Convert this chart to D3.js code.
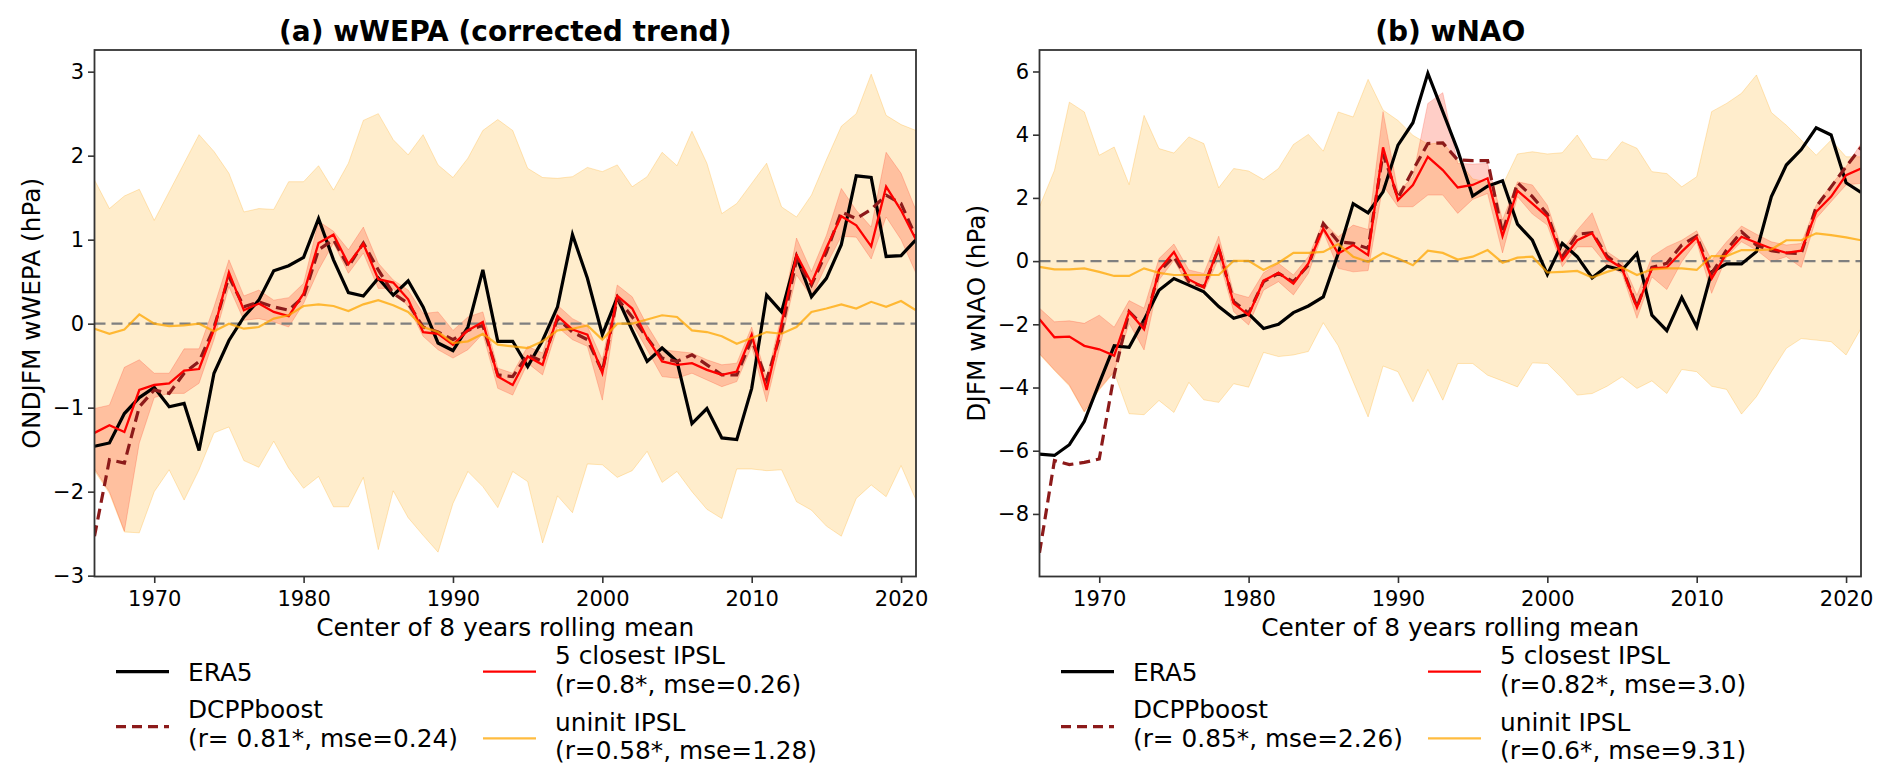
<!DOCTYPE html>
<html>
<head>
<meta charset="utf-8">
<script src="https://cdn.jsdelivr.net/npm/d3@7"></script>
<style>
    body { margin: 0; background: #fff; }
    svg text { font-family: "DejaVu Sans", sans-serif; fill: #000; }
</style>
</head>
<body>
<svg id="chart" width="1892" height="782"></svg>
<script>
// years are the centres of the 8-year rolling means
var YEARS = d3.range(1966, 2022);
var X_TICKS = [1970, 1980, 1990, 2000, 2010, 2020];

// (a) wWEPA
var WEPA_TICKS = [-3, -2, -1, 0, 1, 2, 3];
var WEPA_ERA5 = [-1.46,-1.42,-1.07,-0.88,-0.76,-0.99,-0.95,-1.51,-0.59,-0.20,0.08,0.28,0.63,0.69,0.79,1.25,0.76,0.37,0.33,0.54,0.34,0.51,0.20,-0.23,-0.32,-0.04,0.64,-0.21,-0.21,-0.51,-0.20,0.20,1.06,0.54,-0.13,0.31,-0.08,-0.45,-0.29,-0.45,-1.19,-1.01,-1.36,-1.38,-0.77,0.34,0.14,0.80,0.32,0.54,0.94,1.76,1.74,0.80,0.81,1.00];
var WEPA_DCPP = [-2.53,-1.62,-1.66,-0.99,-0.79,-0.83,-0.59,-0.45,-0.05,0.56,0.20,0.26,0.20,0.16,0.32,0.88,1.00,0.68,0.96,0.64,0.36,0.24,-0.04,-0.10,-0.19,-0.08,-0.02,-0.61,-0.63,-0.37,-0.45,0.06,-0.10,-0.19,-0.57,0.30,0.08,-0.17,-0.41,-0.45,-0.37,-0.49,-0.61,-0.61,-0.19,-0.67,-0.08,0.76,0.46,0.85,1.33,1.25,1.36,1.53,1.43,1.03];
var WEPA_CLOSE = [-1.30,-1.21,-1.29,-0.79,-0.73,-0.71,-0.56,-0.54,-0.07,0.61,0.16,0.24,0.14,0.09,0.36,0.96,1.06,0.71,0.95,0.53,0.49,0.29,-0.10,-0.12,-0.25,-0.08,0.02,-0.63,-0.73,-0.39,-0.49,0.09,-0.07,-0.13,-0.59,0.33,0.18,-0.17,-0.45,-0.49,-0.47,-0.55,-0.61,-0.57,-0.13,-0.79,0.00,0.82,0.48,0.90,1.28,1.17,0.92,1.63,1.35,1.00];
var WEPA_CLOSE_LO = [-1.73,-2.00,-2.47,-1.42,-0.88,-0.83,-0.83,-0.71,-0.19,0.44,0.04,0.06,0.02,-0.04,0.24,0.64,0.96,0.60,0.84,0.42,0.42,0.20,-0.15,-0.31,-0.41,-0.31,-0.12,-0.77,-0.85,-0.47,-0.61,-0.04,-0.19,-0.27,-0.91,0.24,0.00,-0.31,-0.63,-0.65,-0.59,-0.67,-0.75,-0.69,-0.27,-0.93,-0.19,0.58,0.32,0.70,1.04,1.03,0.77,1.27,1.00,0.60];
var WEPA_CLOSE_HI = [-1.01,-0.97,-0.52,-0.43,-0.59,-0.59,-0.30,-0.30,0.20,0.76,0.33,0.40,0.28,0.31,0.48,1.22,1.10,0.88,1.15,0.72,0.52,0.40,0.12,0.14,-0.08,0.08,0.14,-0.53,-0.59,-0.27,-0.35,0.22,0.06,-0.03,-0.43,0.46,0.32,-0.02,-0.31,-0.33,-0.35,-0.43,-0.49,-0.47,-0.04,-0.65,0.10,1.02,0.62,1.05,1.61,1.35,1.15,2.04,1.79,1.35];
var WEPA_UNINIT = [-0.06,-0.12,-0.07,0.11,0.00,-0.03,-0.02,0.00,-0.09,0.00,-0.06,-0.04,0.06,0.10,0.21,0.23,0.21,0.15,0.23,0.28,0.22,0.14,-0.04,-0.10,-0.23,-0.21,-0.12,-0.25,-0.27,-0.29,-0.21,-0.08,-0.06,-0.02,-0.19,0.00,0.00,0.05,0.10,0.08,-0.08,-0.10,-0.15,-0.24,-0.17,-0.10,-0.12,-0.04,0.14,0.18,0.23,0.18,0.26,0.20,0.27,0.16];
var WEPA_UNINIT_LO = [-1.75,-2.02,-2.48,-2.49,-2.00,-1.74,-2.10,-1.74,-1.30,-1.23,-1.63,-1.71,-1.40,-1.72,-1.96,-1.82,-2.18,-2.18,-1.83,-2.69,-1.99,-2.31,-2.52,-2.72,-2.14,-1.76,-1.94,-2.19,-1.76,-1.88,-2.61,-2.05,-2.25,-1.67,-1.68,-1.83,-1.75,-1.52,-1.89,-1.76,-2.00,-2.21,-2.32,-1.73,-1.73,-1.75,-1.74,-2.12,-2.22,-2.41,-2.53,-2.08,-1.92,-2.06,-1.69,-2.10];
var WEPA_UNINIT_HI = [1.71,1.37,1.52,1.60,1.23,1.57,1.91,2.25,2.05,1.79,1.33,1.37,1.36,1.69,1.69,1.88,1.59,1.91,2.42,2.50,2.19,2.01,2.25,1.89,1.74,1.97,2.30,2.43,2.30,1.85,1.74,1.73,1.75,1.86,1.81,1.89,1.63,1.75,2.04,1.88,2.29,1.91,1.31,1.43,1.67,1.91,1.39,1.27,1.53,1.95,2.35,2.50,2.97,2.48,2.37,2.30];

// (b) wNAO
var NAO_TICKS = [-8, -6, -4, -2, 0, 2, 4, 6];
var NAO_ERA5 = [-6.11,-6.15,-5.81,-5.07,-3.86,-2.68,-2.73,-1.86,-0.92,-0.55,-0.76,-0.97,-1.44,-1.81,-1.67,-2.13,-2.00,-1.63,-1.42,-1.13,0.24,1.82,1.53,2.19,3.67,4.38,5.94,4.73,3.51,2.06,2.37,2.54,1.17,0.66,-0.42,0.56,0.14,-0.53,-0.16,-0.28,0.24,-1.71,-2.20,-1.15,-2.08,-0.34,-0.09,-0.09,0.30,2.04,3.04,3.53,4.22,3.99,2.48,2.17];
var NAO_DCPP = [-9.23,-6.31,-6.44,-6.37,-6.26,-3.60,-1.60,-2.07,-0.34,0.14,-0.65,-0.81,0.40,-1.28,-1.65,-0.65,-0.39,-0.65,-0.13,1.19,0.61,0.56,0.40,3.40,2.00,2.88,3.72,3.74,3.20,3.18,3.18,0.88,2.48,2.04,1.49,0.14,0.85,0.90,0.16,-0.20,-1.45,-0.20,-0.07,0.51,0.79,-0.39,0.35,0.93,0.51,0.33,0.26,0.24,1.72,2.35,2.99,3.60];
var NAO_CLOSE = [-1.84,-2.41,-2.39,-2.68,-2.79,-2.99,-1.60,-2.16,-0.28,0.29,-0.58,-0.83,0.45,-1.34,-1.71,-0.62,-0.37,-0.71,-0.07,1.03,0.24,0.51,0.19,3.60,1.93,2.41,3.30,2.88,2.33,2.41,2.62,0.79,2.23,1.82,1.40,0.03,0.66,0.88,0.08,-0.23,-1.47,-0.23,-0.20,0.30,0.75,-0.55,0.24,0.77,0.58,0.40,0.26,0.33,1.56,2.04,2.72,2.93];
var NAO_CLOSE_LO = [-2.92,-3.44,-3.92,-4.76,-4.05,-3.49,-1.97,-2.81,-0.60,0.03,-0.81,-0.97,0.08,-1.60,-2.02,-0.92,-0.65,-1.07,-0.39,0.93,-0.23,-0.34,-0.30,2.40,1.72,1.72,2.09,2.09,1.51,1.95,2.14,0.26,2.04,1.49,1.14,-0.18,0.45,0.45,-0.13,-0.39,-1.81,-0.50,-0.90,-0.02,0.61,-1.02,0.14,0.61,0.35,-0.02,0.14,-0.20,1.35,1.88,2.41,2.46];
var NAO_CLOSE_HI = [-1.49,-1.92,-1.89,-1.97,-1.71,-2.09,-1.25,-1.49,0.08,0.54,-0.28,-0.39,0.79,-1.02,-1.15,-0.37,-0.07,-0.44,0.14,1.24,0.77,1.14,1.00,4.73,2.19,2.67,4.99,5.33,3.09,3.07,3.09,1.30,2.51,2.41,1.77,0.35,0.98,1.53,0.30,-0.02,-1.08,0.14,0.45,0.66,0.96,0.03,0.61,1.11,0.85,0.61,0.51,0.56,1.77,2.41,2.99,3.72];
var NAO_UNINIT = [-0.18,-0.26,-0.26,-0.23,-0.34,-0.47,-0.47,-0.23,-0.37,-0.44,-0.44,-0.44,-0.44,0.01,0.01,-0.28,-0.05,0.26,0.26,0.29,0.54,0.14,-0.02,0.26,0.08,-0.13,0.33,0.26,0.05,0.14,0.35,-0.05,0.11,0.14,-0.36,-0.34,-0.31,-0.52,-0.34,-0.20,-0.44,-0.26,-0.23,-0.23,-0.28,0.16,0.16,0.35,0.35,0.37,0.66,0.66,0.88,0.82,0.75,0.66];
var NAO_UNINIT_LO = [-2.95,-3.46,-3.95,-4.78,-4.08,-3.52,-4.83,-4.86,-4.41,-4.79,-3.84,-4.39,-4.47,-3.88,-3.99,-2.89,-3.02,-2.97,-2.86,-1.95,-2.68,-3.81,-4.93,-3.32,-3.50,-4.45,-3.43,-4.40,-3.24,-3.24,-3.61,-3.79,-3.98,-3.22,-3.24,-3.71,-4.24,-4.19,-3.96,-3.66,-4.03,-3.79,-4.19,-3.43,-3.50,-3.96,-4.06,-4.84,-4.29,-3.50,-2.76,-2.45,-2.50,-2.55,-2.97,-2.13];
var NAO_UNINIT_HI = [1.72,2.87,5.03,4.72,3.35,3.61,2.42,4.61,3.56,3.42,3.93,3.72,2.32,2.93,2.85,2.58,2.93,3.69,4.01,3.48,4.72,4.56,5.75,4.78,4.45,3.98,3.70,3.75,3.20,2.60,2.50,2.40,3.39,3.46,3.39,3.43,3.99,3.25,3.20,3.78,3.57,2.83,2.77,2.35,2.67,4.73,4.99,5.31,5.89,4.70,4.30,3.83,3.35,3.83,3.30,3.30];

(function () {
    var svg = d3.select("#chart");
    var TOP = 50, BOTTOM = 576.5, WIDTH = 821.5;
    var COL_ERA5 = "#000", COL_DCPP = "#8c1a1a", COL_CLOSE = "#ff0000", COL_UNINIT = "#ffa500";
    var LABEL_SIZE = 24.8, TICK_SIZE = 21;

    var fmtTick = function (v) { return v < 0 ? "\u2212" + Math.abs(v) : String(v); };

    var drawPanel = function (p) {
        var left = p.left, right = left + WIDTH;
        var x = d3.scaleLinear().domain([1966, 2021]).range([left, right]);
        var y = d3.scaleLinear().domain(p.yDomain).range([BOTTOM, TOP]);

        var clipId = "clip_" + p.id;
        svg.append("clipPath").attr("id", clipId)
            .append("rect").attr("x", left).attr("y", TOP)
            .attr("width", WIDTH).attr("height", BOTTOM - TOP);
        var g = svg.append("g").attr("clip-path", "url(#" + clipId + ")");

        var band = function (lo, hi) {
            return d3.area()
                .x(function (d, i) { return x(YEARS[i]); })
                .y0(function (d, i) { return y(lo[i]); })
                .y1(function (d, i) { return y(hi[i]); })(YEARS);
        };
        var line = function (vals) {
            return d3.line()
                .x(function (d, i) { return x(YEARS[i]); })
                .y(function (d) { return y(d); })(vals);
        };

        // ensemble spreads
        g.append("path").attr("d", band(p.uninitLo, p.uninitHi))
            .attr("fill", COL_UNINIT).attr("fill-opacity", 0.2)
            .attr("stroke", COL_UNINIT).attr("stroke-opacity", 0.25).attr("stroke-width", 1);
        g.append("path").attr("d", band(p.closeLo, p.closeHi))
            .attr("fill", "#ff2000").attr("fill-opacity", 0.22)
            .attr("stroke", "#ff2000").attr("stroke-opacity", 0.2).attr("stroke-width", 1);

        g.append("line")
            .attr("x1", left).attr("x2", right)
            .attr("y1", y(0)).attr("y2", y(0))
            .attr("stroke", "#7f7f7f").attr("stroke-width", 2.2)
            .attr("stroke-dasharray", "11,6");

        g.append("path").attr("d", line(p.era5)).attr("fill", "none")
            .attr("stroke", COL_ERA5).attr("stroke-width", 3.2);
        g.append("path").attr("d", line(p.dcpp)).attr("fill", "none")
            .attr("stroke", COL_DCPP).attr("stroke-width", 3.2).attr("stroke-dasharray", "11,6");
        g.append("path").attr("d", line(p.close)).attr("fill", "none")
            .attr("stroke", COL_CLOSE).attr("stroke-width", 2.3);
        g.append("path").attr("d", line(p.uninit)).attr("fill", "none")
            .attr("stroke", COL_UNINIT).attr("stroke-opacity", 0.75).attr("stroke-width", 2.2);

        // axes box
        svg.append("rect").attr("x", left).attr("y", TOP)
            .attr("width", WIDTH).attr("height", BOTTOM - TOP)
            .attr("fill", "none").attr("stroke", "#333").attr("stroke-width", 1.8);

        var xAxis = svg.append("g").attr("transform", "translate(0," + BOTTOM + ")")
            .call(d3.axisBottom(x).tickValues(X_TICKS).tickSize(6.5).tickPadding(8).tickFormat(d3.format("d")));
        xAxis.select(".domain").remove();
        xAxis.selectAll(".tick line").attr("stroke", "#333").attr("stroke-width", 1.6);
        xAxis.selectAll("text").attr("font-size", TICK_SIZE).attr("font-family", "DejaVu Sans");

        var yAxis = svg.append("g").attr("transform", "translate(" + left + ",0)")
            .call(d3.axisLeft(y).tickValues(p.yTicks).tickSize(6.5).tickPadding(4).tickFormat(fmtTick));
        yAxis.select(".domain").remove();
        yAxis.selectAll(".tick line").attr("stroke", "#333").attr("stroke-width", 1.6);
        yAxis.selectAll("text").attr("font-size", TICK_SIZE).attr("font-family", "DejaVu Sans");

        svg.append("text").attr("x", (left + right) / 2).attr("y", 41)
            .attr("text-anchor", "middle").attr("font-size", 28).attr("font-weight", "bold")
            .text(p.title);
        svg.append("text").attr("x", (left + right) / 2).attr("y", 636)
            .attr("text-anchor", "middle").attr("font-size", LABEL_SIZE)
            .text("Center of 8 years rolling mean");
        svg.append("text")
            .attr("transform", "translate(" + (left - p.yLabelOffset) + "," + ((TOP + BOTTOM) / 2) + ") rotate(-90)")
            .attr("text-anchor", "middle").attr("dy", "0.35em").attr("font-size", LABEL_SIZE)
            .text(p.yLabel);

        // legend, two columns
        var lg = svg.append("g").attr("transform", "translate(" + left + ",0)");
        var items = [
            {dx: 21.5, hy: 671.7, stroke: COL_ERA5, w: 3.2, dash: null, op: 1, lines: ["ERA5"], ty: [680.5]},
            {dx: 21.5, hy: 726.7, stroke: COL_DCPP, w: 3.2, dash: "10,6", op: 1, lines: ["DCPPboost", p.dcppStats], ty: [718, 747]},
            {dx: 388.5, hy: 671.7, stroke: COL_CLOSE, w: 2.3, dash: null, op: 1, lines: ["5 closest IPSL", p.closeStats], ty: [664, 693]},
            {dx: 388.5, hy: 738.3, stroke: COL_UNINIT, w: 2.2, dash: null, op: 0.75, lines: ["uninit IPSL", p.uninitStats], ty: [730.5, 759]}
        ];
        items.forEach(function (it) {
            lg.append("line").attr("x1", it.dx).attr("x2", it.dx + 53)
                .attr("y1", it.hy).attr("y2", it.hy)
                .attr("stroke", it.stroke).attr("stroke-width", it.w)
                .attr("stroke-opacity", it.op)
                .attr("stroke-dasharray", it.dash);
            it.lines.forEach(function (t, k) {
                lg.append("text").attr("x", it.dx + 72).attr("y", it.ty[k])
                    .attr("font-size", LABEL_SIZE).text(t);
            });
        });
    };

    drawPanel({
        id: "a", left: 94.5, yDomain: [-3.01, 3.258], yTicks: WEPA_TICKS,
        title: "(a) wWEPA (corrected trend)", yLabel: "ONDJFM wWEPA (hPa)", yLabelOffset: 63.5,
        era5: WEPA_ERA5, dcpp: WEPA_DCPP, close: WEPA_CLOSE, closeLo: WEPA_CLOSE_LO, closeHi: WEPA_CLOSE_HI,
        uninit: WEPA_UNINIT, uninitLo: WEPA_UNINIT_LO, uninitHi: WEPA_UNINIT_HI,
        dcppStats: "(r= 0.81*, mse=0.24)", closeStats: "(r=0.8*, mse=0.26)", uninitStats: "(r=0.58*, mse=1.28)"
    });
    drawPanel({
        id: "b", left: 1039.5, yDomain: [-9.98, 6.68], yTicks: NAO_TICKS,
        title: "(b) wNAO", yLabel: "DJFM wNAO (hPa)", yLabelOffset: 63.5,
        era5: NAO_ERA5, dcpp: NAO_DCPP, close: NAO_CLOSE, closeLo: NAO_CLOSE_LO, closeHi: NAO_CLOSE_HI,
        uninit: NAO_UNINIT, uninitLo: NAO_UNINIT_LO, uninitHi: NAO_UNINIT_HI,
        dcppStats: "(r= 0.85*, mse=2.26)", closeStats: "(r=0.82*, mse=3.0)", uninitStats: "(r=0.6*, mse=9.31)"
    });
})();
</script>
</body>
</html>
